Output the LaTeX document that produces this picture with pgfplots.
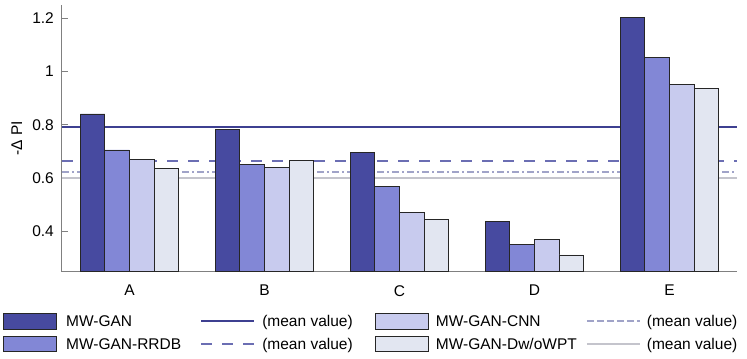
\documentclass[border=0pt]{standalone}
\usepackage{fontspec}
\setmainfont{Liberation Sans}
\usepackage{pgfplots}
\pgfplotsset{compat=1.18}

\definecolor{cGAN}{RGB}{71,74,160}
\definecolor{cRRDB}{RGB}{130,135,214}
\definecolor{cCNN}{RGB}{200,203,238}
\definecolor{cDw}{RGB}{226,230,241}
\definecolor{mGAN}{RGB}{62,64,145}
\definecolor{mRRDB}{RGB}{107,110,179}
\definecolor{mCNN}{RGB}{160,163,200}
\definecolor{mDw}{RGB}{196,196,204}

\newcommand{\lt}[3]{\makebox[#1][l]{\hspace{#2}#3}}
\newcommand{\fnt}{\fontsize{15.5bp}{18bp}\selectfont}

\pgfplotsset{
  barleg/.style={legend image code/.code={\draw[##1] (0bp,-6.35bp) rectangle (52.7bp,9.35bp);}},
  lineleg/.style={legend image code/.code={\draw[##1] (0bp,1.5bp) -- (53bp,1.5bp);}},
  barsty/.style={ybar, bar width=0.182, draw=black!85, line width=0.9bp, forget plot},
}

\begin{document}
\begin{tikzpicture}
\begin{axis}[
  at={(0,0)}, anchor=south west,
  scale only axis, width=675bp, height=266.5bp,
  xmin=0.5, xmax=5.5, ymin=0.25, ymax=1.25,
  axis lines*=left,
  axis line style={draw=gray, line width=1bp},
  xtick={1,2,3,4,5}, xticklabels={A,B,C,D,E},
  ytick={0.4,0.6,0.8,1,1.2},
  tick align=inside,
  x tick style={draw=none},
  y tick style={draw=gray, line width=1bp},
  major tick length=6.5bp,
  tick label style={font=\fnt},
  /pgf/number format/assume math mode=true,
  yticklabel style={inner sep=0pt, anchor=east, xshift=-8bp},
  xticklabel style={inner sep=0pt, anchor=north, yshift=-13.5bp},
  ylabel={-Δ PI},
  ylabel style={font=\fnt, at={(axis description cs:-0.0671,0.5)}, anchor=center},
  legend columns=4,
  legend cell align=left,
  legend style={draw=none, fill=none, font=\fnt,
    at={(axis description cs:-0.08696,-0.1546)}, anchor=north west,
    inner sep=0pt, column sep=0pt, row sep=5.6bp,
    nodes={inner sep=0pt, text height=11bp, text depth=3.5bp}},
]
% mean values
\addplot[color=mDw, line width=2bp, forget plot] coordinates {(0.5,0.599)(5.5,0.599)};
\addplot[color=mCNN, line width=2bp, dash pattern=on 7bp off 3bp on 2bp off 3bp, forget plot] coordinates {(0.5,0.622)(5.5,0.622)};
\addplot[color=mRRDB, line width=2bp, dash pattern=on 11bp off 10bp, forget plot] coordinates {(0.5,0.666)(5.5,0.666)};
\addplot[color=mGAN, line width=2.2bp, forget plot] coordinates {(0.5,0.793)(5.5,0.793)};
% bars
\addplot[barsty, bar shift=-0.273, fill=cGAN] coordinates {(1,0.841)(2,0.784)(3,0.696)(4,0.439)(5,1.203)};
\addplot[barsty, bar shift=-0.091, fill=cRRDB] coordinates {(1,0.706)(2,0.651)(3,0.568)(4,0.351)(5,1.054)};
\addplot[barsty, bar shift=0.091, fill=cCNN] coordinates {(1,0.672)(2,0.639)(3,0.472)(4,0.371)(5,0.953)};
\addplot[barsty, bar shift=0.273, fill=cDw] coordinates {(1,0.638)(2,0.666)(3,0.445)(4,0.312)(5,0.935)};
% legend, row by row
\addlegendimage{barleg, fill=cGAN, draw=black!85, line width=0.9bp}
\addlegendentry{\lt{143bp}{9bp}{MW-GAN}}
\addlegendimage{lineleg, color=mGAN, line width=2.2bp}
\addlegendentry{\lt{120bp}{7bp}{(mean value)}}
\addlegendimage{barleg, fill=cCNN, draw=black!85, line width=0.9bp}
\addlegendentry{\lt{157bp}{7bp}{MW-GAN-CNN}}
\addlegendimage{lineleg, color=mCNN, line width=2bp, dash pattern=on 7bp off 3bp}
\addlegendentry{\lt{100bp}{6bp}{(mean value)}}
\addlegendimage{barleg, fill=cRRDB, draw=black!85, line width=0.9bp}
\addlegendentry{\lt{143bp}{9bp}{MW-GAN-RRDB}}
\addlegendimage{lineleg, color=mRRDB, line width=2bp, dash pattern=on 11bp off 10bp}
\addlegendentry{\lt{120bp}{7bp}{(mean value)}}
\addlegendimage{barleg, fill=cDw, draw=black!85, line width=0.9bp}
\addlegendentry{\lt{157bp}{7bp}{MW-GAN-Dw/oWPT}}
\addlegendimage{lineleg, color=mDw, line width=2bp}
\addlegendentry{\lt{100bp}{6bp}{(mean value)}}
\end{axis}
\pgfresetboundingbox
\path[use as bounding box] (-62bp,-87.5bp) rectangle (685bp,271.5bp);
\end{tikzpicture}
\end{document}
